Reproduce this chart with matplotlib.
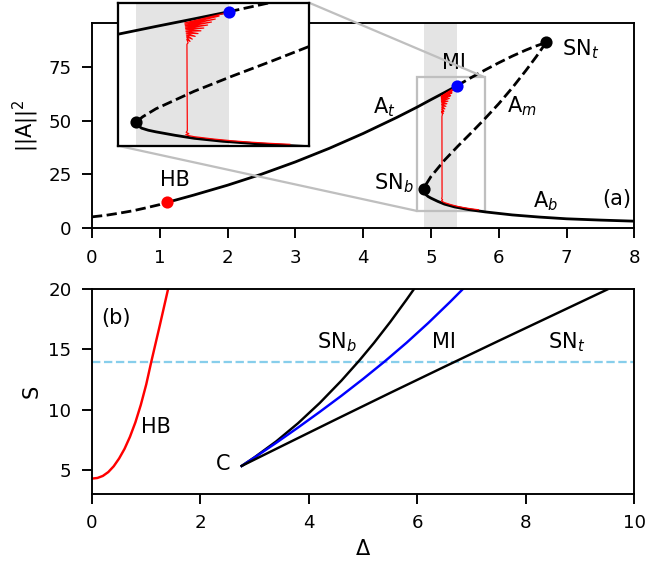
import matplotlib
matplotlib.use("Agg")
import matplotlib.pyplot as plt
from mpl_toolkits.axes_grid1.inset_locator import mark_inset

plt.rcParams.update({
    "xtick.major.size": 5.8, "ytick.major.size": 5.8,
    "xtick.major.pad": 6.0, "ytick.major.pad": 6.0,
    "xtick.major.width": 1.1, "ytick.major.width": 1.1,
    "xtick.labelsize": 10.5, "ytick.labelsize": 10.5,
    "axes.linewidth": 1.1, "axes.labelsize": 12,
})

# ---- panel (a): homogeneous branch ||A||^2 vs Delta (S = 14) ----
d_low = [0.0, 0.2, 0.4, 0.6, 0.8, 1.0, 1.107]
i_low = [5.3, 6.0, 7.0, 8.1, 9.5, 11.0, 12.0]

d_top = [1.107, 1.5, 2.0, 2.5, 3.0, 3.5, 4.0, 4.5, 4.8, 5.0, 5.2, 5.383]
i_top = [12.0, 15.4, 20.0, 25.1, 30.8, 37.1, 44.0, 51.5, 56.3, 59.7, 63.0, 66.1]

d_up = [5.383, 5.58, 5.8, 6.0, 6.2, 6.4, 6.55, 6.65, 6.70]
i_up = [66.1, 69.7, 73.5, 76.8, 79.9, 82.7, 84.6, 85.7, 86.3]

d_mid = [6.70, 6.65, 6.55, 6.4, 6.2, 6.0, 5.8, 5.6, 5.4, 5.2, 5.0, 4.93, 4.897]
i_mid = [86.3, 84.0, 79.5, 73.2, 65.2, 57.8, 51.0, 44.5, 38.2, 31.6, 24.0, 20.5, 18.2]

d_bot = [4.897, 4.905, 4.925, 4.96, 5.0, 5.1, 5.2, 5.35, 5.55, 5.8, 6.2, 6.6, 7.0, 7.5, 8.0]
i_bot = [18.2, 16.8, 15.6, 14.7, 14.0, 12.5, 11.2, 9.9, 8.7, 7.6, 6.2, 5.2, 4.4, 3.8, 3.3]

# red continuation curve (snaking between A_t and A_b)
d_red = [5.37, 5.15, 5.33, 5.152, 5.31, 5.153, 5.29, 5.154, 5.27, 5.155, 5.25,
         5.156, 5.235, 5.157, 5.22, 5.158, 5.205, 5.159, 5.19, 5.16, 5.178,
         5.161, 5.168, 5.162, 5.163, 5.164, 5.158, 5.172, 5.156, 5.17,
         5.2, 5.3, 5.4, 5.5, 5.6, 5.7]
i_red = [65.6, 61.2, 64.2, 60.6, 62.9, 60.0, 61.6, 59.4, 60.3, 58.8, 59.0,
         58.2, 57.8, 57.5, 56.6, 56.8, 55.4, 56.0, 54.2, 55.2, 53.2,
         54.2, 52.6, 52.0, 30.0, 14.5, 13.8, 13.2, 12.8, 12.4,
         11.9, 10.9, 10.1, 9.5, 9.0, 8.6]

pts = {"HB": (1.107, 12.0, "red"), "MI": (5.383, 66.1, "blue"),
       "SNb": (4.897, 18.2, "black"), "SNt": (6.70, 86.3, "black")}
band = (4.897, 5.383)

# ---- panel (b): bifurcation lines in (Delta, S) ----
d_hb = [0.0, 0.1, 0.2, 0.3, 0.4, 0.5, 0.6, 0.7, 0.8, 0.9, 1.0, 1.094, 1.25, 1.402]
s_hb = [4.28, 4.33, 4.5, 4.82, 5.3, 5.95, 6.75, 7.75, 8.95, 10.4, 12.1, 14.0, 17.0, 20.0]

d_snb = [2.76, 3.0, 3.4, 3.8, 4.2, 4.6, 4.93, 5.2, 5.5, 5.8, 5.95]
s_snb = [5.33, 6.06, 7.38, 8.88, 10.56, 12.42, 14.09, 15.55, 17.29, 19.14, 20.1]

d_mi = [2.76, 3.0, 3.4, 3.8, 4.2, 4.6, 5.0, 5.4, 5.8, 6.2, 6.6, 6.85]
s_mi = [5.33, 6.04, 7.26, 8.52, 9.82, 11.16, 12.56, 14.02, 15.56, 17.2, 18.94, 20.07]

d_snt = [2.76, 3.5, 4.5, 5.5, 6.5, 7.5, 8.5, 9.5]
s_snt = [5.33, 6.98, 9.2, 11.4, 13.57, 15.72, 17.85, 19.98]

s_cut = 14


def draw_branches(ax):
    ax.axvspan(*band, color="lightgray", alpha=0.6, lw=0, zorder=0)
    ax.plot(d_low, i_low, "k--", lw=1.6)
    ax.plot(d_top, i_top, "k-", lw=1.6)
    ax.plot(d_up, i_up, "k--", lw=1.6)
    ax.plot(d_mid, i_mid, "k--", lw=1.6)
    ax.plot(d_bot, i_bot, "k-", lw=1.6)
    ax.plot(d_red, i_red, "r-", lw=0.7)
    for x, y, c in pts.values():
        ax.plot(x, y, "o", color=c, ms=6, zorder=5)


fig = plt.figure(figsize=(647 / 125, 568 / 125), dpi=125)
ax1 = fig.add_axes([0.1422, 0.5981, 0.8382, 0.3619])
ax2 = fig.add_axes([0.1422, 0.1303, 0.8382, 0.3604])

draw_branches(ax1)
ax1.set_xlim(0, 8)
ax1.set_ylim(0, 95.4)
ax1.set_yticks([0, 25, 50, 75])
ax1.set_ylabel("||A||$^2$")

fs = 12
ax1.text(1.0, 22.5, "HB", fontsize=fs, va="center")
ax1.text(4.16, 20.9, "SN$_b$", fontsize=fs, va="center")
ax1.text(4.15, 56, "A$_t$", fontsize=fs, va="center")
ax1.text(5.16, 76.7, "MI", fontsize=fs, va="center")
ax1.text(6.12, 56.7, "A$_m$", fontsize=fs, va="center")
ax1.text(6.93, 83, "SN$_t$", fontsize=fs, va="center")
ax1.text(6.51, 12.7, "A$_b$", fontsize=fs, va="center")
ax1.text(7.52, 13.4, "(a)", fontsize=fs, va="center")

# zoomed inset
axins = fig.add_axes([0.1819, 0.7435, 0.2957, 0.2518])
draw_branches(axins)
axins.set_xlim(4.8, 5.8)
axins.set_ylim(8, 70)
axins.set_xticks([])
axins.set_yticks([])
for sp in axins.spines.values():
    sp.set_linewidth(1.3)
mark_inset(ax1, axins, loc1=1, loc2=3, fc="none", ec="0.75", lw=1.3)

# panel (b)
ax2.axhline(s_cut, color="skyblue", ls="--", lw=1.3)
ax2.plot(d_hb, s_hb, color="red", lw=1.4)
ax2.plot(d_snb, s_snb, color="black", lw=1.4)
ax2.plot(d_mi, s_mi, color="blue", lw=1.4)
ax2.plot(d_snt, s_snt, color="black", lw=1.4)
ax2.set_xlim(0, 10)
ax2.set_ylim(3, 20)
ax2.set_yticks([5, 10, 15, 20])
ax2.set_xlabel("Δ")
ax2.set_ylabel("S")

ax2.text(0.17, 17.6, "(b)", fontsize=fs, va="center")
ax2.text(4.15, 15.6, "SN$_b$", fontsize=fs, va="center")
ax2.text(6.27, 15.6, "MI", fontsize=fs, va="center")
ax2.text(8.41, 15.6, "SN$_t$", fontsize=fs, va="center")
ax2.text(0.9, 8.56, "HB", fontsize=fs, va="center")
ax2.text(2.55, 5.48, "C", fontsize=fs, va="center", ha="right")

fig.savefig("out.png", dpi=125)
